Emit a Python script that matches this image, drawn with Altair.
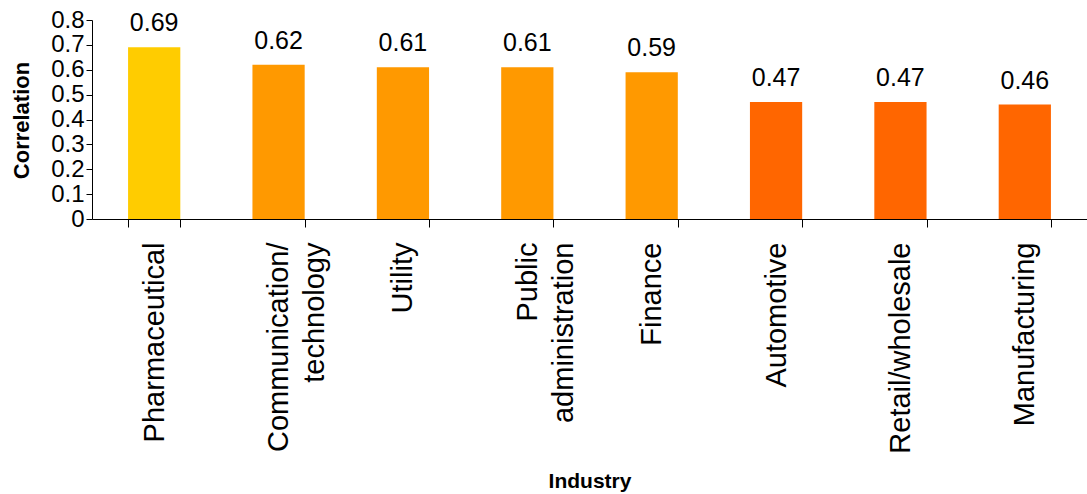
import altair as alt
import pandas as pd

industries = ["Pharmaceutical", "Communication/technology", "Utility",
              "Public administration", "Finance", "Automotive",
              "Retail/wholesale", "Manufacturing"]
correlations = [0.69, 0.62, 0.61, 0.61, 0.59, 0.47, 0.47, 0.46]
groups = ["top", "mid", "mid", "mid", "mid", "low", "low", "low"]
group_colors = {"top": "#FFCC00", "mid": "#FF9900", "low": "#FF6600"}
y_ticks = [0, 0.1, 0.2, 0.3, 0.4, 0.5, 0.6, 0.7, 0.8]

# tick label lines (lines centred against each other with no-break spaces)
NB = "\u00a0"
label_lines = {
    "Communication/technology": ["Communication/", "technology" + NB * 4],
    "Public administration": ["Public" + NB * 6, "administration"],
}

df = pd.DataFrame({"industry": industries, "corr": correlations, "group": groups})

expr = "datum.label"
for k, lines in label_lines.items():
    arr = "[" + ",".join("'" + s + "'" for s in lines) + "]"
    expr = f"datum.label == '{k}' ? {arr} : ({expr})"

FONT = "Liberation Sans"

x_enc = alt.X(
    "industry:N", sort=industries,
    scale=alt.Scale(paddingInner=0.58, paddingOuter=0.29),
    axis=alt.Axis(
        title="Industry", labelAngle=270, labelAlign="right", labelBaseline="middle",
        labelFontSize=29, labelPadding=15, labelLimit=0, labelLineHeight=36,
        labelOverlap=False, labelExpr=expr, labelColor="#000",
        tickBand="extent", tickSize=8, tickColor="#000", domainColor="#000",
        titleFontSize=21, titleFontWeight="bold", titleColor="#000",
        titleY=268, titleBaseline="alphabetic",
    ),
)

y_enc = alt.Y(
    "corr:Q", scale=alt.Scale(domain=[0, 0.8], nice=False),
    axis=alt.Axis(title="Correlation", values=y_ticks, format="~g",
                  grid=False, tickSize=6, tickColor="#000", domainColor="#000",
                  labelFontSize=24, labelPadding=2, labelColor="#000",
                  labelOverlap=False, labelFlush=False,
                  titleFontSize=22, titleFontWeight="bold", titleColor="#000",
                  titleX=-64, titleY=100, titleBaseline="alphabetic"),
)

bars = alt.Chart(df).mark_bar().encode(
    x=x_enc,
    y=y_enc,
    color=alt.Color("group:N", scale=alt.Scale(domain=list(group_colors.keys()),
                                               range=list(group_colors.values())),
                    legend=None),
)

labels = alt.Chart(df).mark_text(
    fontSize=25, baseline="alphabetic", dy=-16, color="#000", font=FONT
).encode(
    x=x_enc,
    y=y_enc,
    text=alt.Text("corr:Q", format=".2f"),
)

chart = alt.layer(bars, labels).properties(
    width=995, height=199,
    autosize=alt.AutoSizeParams(type="none"),
    padding={"left": 92, "top": 20, "right": 0, "bottom": 275},
).configure(font=FONT).configure_view(stroke=None)

chart.save("out.html", embed_options={"renderer": "svg", "actions": False})
